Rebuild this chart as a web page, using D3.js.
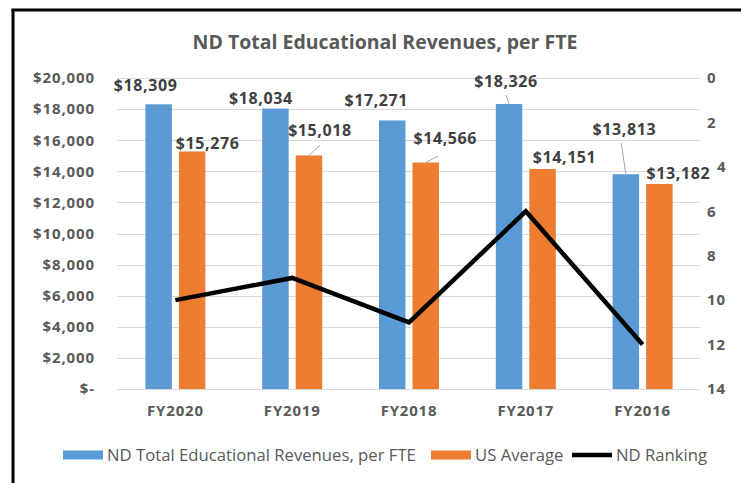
<!DOCTYPE html>
<html>
<head>
<meta charset="utf-8">
<script src="https://cdn.jsdelivr.net/npm/d3@7"></script>
<style>
  html, body { margin: 0; padding: 0; background: #fff; }
  svg { display: block; }
  text { font-family: "Open Sans", Lato, sans-serif; }
</style>
</head>
<body>
<svg id="chart" width="741" height="483"></svg>
<script>
// ---- data ----
const title = "ND Total Educational Revenues, per FTE";
const categories = ["FY2020", "FY2019", "FY2018", "FY2017", "FY2016"];
const ndRevenue = [18309, 18034, 17271, 18326, 13813];
const usAverage = [15276, 15018, 14566, 14151, 13182];
const ndRanking = [10, 9, 11, 6, 12];
const leftTicks = [0, 2000, 4000, 6000, 8000, 10000, 12000, 14000, 16000, 18000, 20000];
const rightTicks = [0, 2, 4, 6, 8, 10, 12, 14];
const seriesNames = ["ND Total Educational Revenues, per FTE", "US Average", "ND Ranking"];

// ---- layout (label placement, not data) ----
const ndLabelOffset = [[-13, -19], [-14.5, -10], [-16, -20], [-3, -23], [-1.5, -45]];
const usLabelOffset = [[15.5, -8.5], [11, -25.5], [19.5, -24.5], [22, -12], [19, -11]];
// leader line start relative to label centre (null = none)
const ndLeader = [null, null, null, [0, 14], [-3, 14]];
const usLeader = [null, [0, 15], [-7, 18], null, null];

const colors = { nd: "#5b9bd5", us: "#ed7d31", rank: "#000000" };
const textGray = "#595959";
const labelGray = "#404040";

const svg = d3.select("#chart");
const W = 741, H = 483;
svg.append("rect").attr("width", W).attr("height", H).attr("fill", "#fff");

// fit a text element to a target width by adjusting its font size
function fit(sel, target) {
  const node = sel.node();
  const w = node.getComputedTextLength();
  const fs = parseFloat(sel.attr("font-size"));
  if (w > 0) sel.attr("font-size", (fs * target / w).toFixed(2));
  return parseFloat(sel.attr("font-size"));
}

// frame (left and top border)
svg.append("line").attr("x1", 13).attr("x2", 13).attr("y1", 9).attr("y2", H)
  .attr("stroke", "#000").attr("stroke-width", 3);
svg.append("line").attr("x1", 11.5).attr("x2", W).attr("y1", 10).attr("y2", 10)
  .attr("stroke", "#000").attr("stroke-width", 3);

const plot = { left: 117, right: 701, top: 78, bottom: 389 };

const x0 = d3.scaleBand().domain(categories).range([plot.left, plot.right]).padding(0);
const x1 = d3.scaleBand().domain(["nd", "us"]).range([-30, 30]).paddingInner(0.21);
const y = d3.scaleLinear().domain([0, 20000]).range([plot.bottom, plot.top]);
const yR = d3.scaleLinear().domain([0, 14]).range([plot.top, plot.bottom]);

// gridlines
svg.append("g").selectAll("line").data(leftTicks).join("line")
  .attr("x1", plot.left).attr("x2", plot.right - 1)
  .attr("y1", d => Math.round(y(d)) + 0.5).attr("y2", d => Math.round(y(d)) + 0.5)
  .attr("stroke", "#d9d9d9").attr("stroke-width", 1);

// left axis
const fmtLeft = d => d === 0 ? "$-" : "$" + d3.format(",")(d);
const leftAxis = d3.axisLeft(y).tickValues(leftTicks).tickFormat(fmtLeft).tickSize(0).tickPadding(0);
const gL = svg.append("g").attr("transform", `translate(95,0)`).call(leftAxis);
gL.select(".domain").remove();
gL.selectAll("text").attr("fill", textGray).attr("font-size", 15).attr("font-weight", 700)
  .attr("font-family", "'Open Sans', sans-serif").attr("letter-spacing", 0.9);

// right axis
const rightAxis = d3.axisRight(yR).tickValues(rightTicks).tickFormat(d3.format("d")).tickSize(0).tickPadding(0);
const gR = svg.append("g").attr("transform", `translate(707,0)`).call(rightAxis);
gR.select(".domain").remove();
gR.selectAll("text").attr("fill", textGray).attr("font-size", 15).attr("font-weight", 700)
  .attr("font-family", "'Open Sans', sans-serif").attr("letter-spacing", 0.9)
  .attr("x", d => d === 4 ? 10 : 0);

// bottom axis
const bottomAxis = d3.axisBottom(x0).tickSize(0).tickPadding(0);
const gB = svg.append("g").attr("transform", `translate(0,405)`).call(bottomAxis);
gB.select(".domain").remove();
gB.selectAll("text").attr("fill", textGray).attr("font-size", 15).attr("font-weight", 700)
  .attr("font-family", "'Open Sans', sans-serif").attr("letter-spacing", 0.8).attr("dy", "0.72em");

// bars
const rows = categories.map((c, i) => ({ c, i, nd: ndRevenue[i], us: usAverage[i], rank: ndRanking[i] }));
const cx = c => x0(c) + x0.bandwidth() / 2;

const gBars = svg.append("g");
["nd", "us"].forEach(k => {
  gBars.selectAll("rect." + k).data(rows).join("rect").attr("class", k)
    .attr("x", d => cx(d.c) + x1(k))
    .attr("width", x1.bandwidth())
    .attr("y", d => y(d[k]))
    .attr("height", d => y(0) - y(d[k]))
    .attr("fill", colors[k]);
});

// ranking line
const line = d3.line().x(d => cx(d.c)).y(d => yR(d.rank));
svg.append("path").datum(rows).attr("d", line)
  .attr("fill", "none").attr("stroke", colors.rank).attr("stroke-width", 4.5)
  .attr("stroke-linejoin", "miter").attr("stroke-linecap", "butt");

// data labels
const fmtVal = d => "$" + d3.format(",")(d);
const gLab = svg.append("g");
["nd", "us"].forEach(k => {
  const offs = k === "nd" ? ndLabelOffset : usLabelOffset;
  const leads = k === "nd" ? ndLeader : usLeader;
  rows.forEach(d => {
    const bx = cx(d.c) + x1(k) + x1.bandwidth() / 2;
    const by = y(d[k]);
    const lx = bx + offs[d.i][0], ly = by + offs[d.i][1];
    if (leads[d.i]) {
      gLab.append("line")
        .attr("x1", lx + leads[d.i][0]).attr("y1", ly + leads[d.i][1])
        .attr("x2", bx).attr("y2", by)
        .attr("stroke", "#a6a6a6").attr("stroke-width", 1);
    }
    gLab.append("text").attr("x", lx).attr("y", ly).attr("dy", "0.36em")
      .attr("text-anchor", "middle").attr("fill", labelGray)
      .attr("font-size", 16).attr("font-weight", 700).attr("letter-spacing", 0.6).text(fmtVal(d[k]));
  });
});

// title
const t = svg.append("text").attr("x", 385).attr("y", 42).attr("dy", "0.36em").attr("text-anchor", "middle")
  .attr("fill", textGray).attr("font-size", 19).attr("font-weight", 700).text(title);
fit(t, 385);

// legend
const legY = 455;
const legend = [
  { name: seriesNames[0], type: "rect", color: colors.nd, x: 63, w: 40 },
  { name: seriesNames[1], type: "rect", color: colors.us, x: 431, w: 40 },
  { name: seriesNames[2], type: "line", color: colors.rank, x: 572, w: 40 }
];
let legendFont = 15;
legend.forEach((l, i) => {
  if (l.type === "rect") {
    svg.append("rect").attr("x", l.x).attr("y", legY - 4.5).attr("width", l.w).attr("height", 9).attr("fill", l.color);
  } else {
    svg.append("line").attr("x1", l.x).attr("x2", l.x + l.w).attr("y1", legY).attr("y2", legY)
      .attr("stroke", l.color).attr("stroke-width", 4.5);
  }
  const lt = svg.append("text").attr("x", l.x + l.w + 4).attr("y", legY).attr("dy", "0.36em")
    .attr("fill", textGray).attr("font-size", legendFont).text(l.name);
  if (i === 0) legendFont = fit(lt, 309);
});
</script>
</body>
</html>
